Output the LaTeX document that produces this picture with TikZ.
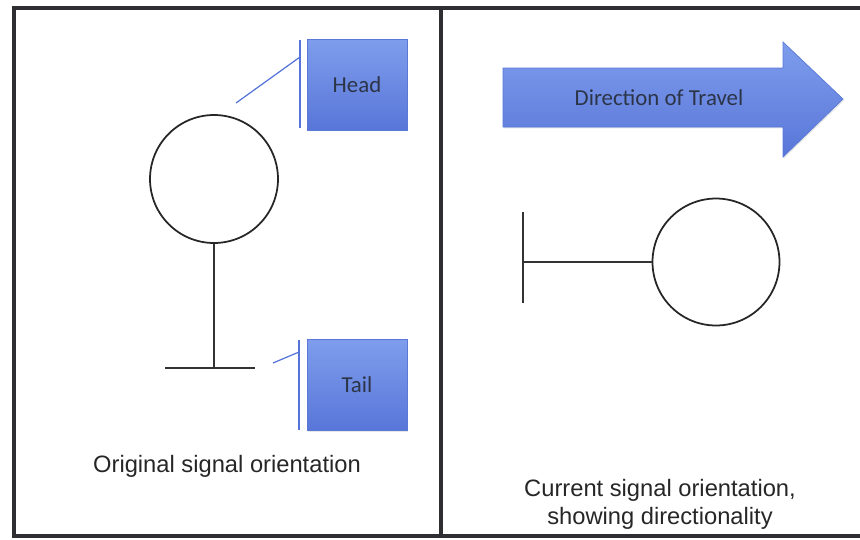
\documentclass[tikz,border=0pt]{standalone}
\usepackage{fontspec}
\setmainfont{Liberation Sans}
\newfontfamily\calloutfont{Carlito}
\usetikzlibrary{positioning,shadows}
\definecolor{frameline}{HTML}{2E2E33}
\definecolor{boxtop}{HTML}{7F9DEC}
\definecolor{boxbottom}{HTML}{5876D8}
\definecolor{boxedge}{HTML}{5A78D6}
\definecolor{leader}{HTML}{5574DA}
\definecolor{boxtext}{HTML}{2C3547}
\tikzset{
  callout/.style={rectangle, draw=boxedge, line width=0.4pt, top color=boxtop, bottom color=boxbottom,
                  minimum width=2cm, minimum height=1.82cm, text=boxtext,
                  font=\calloutfont\fontsize{13}{15}\selectfont,
                  drop shadow={opacity=0.2, shadow xshift=0.6pt, shadow yshift=-0.8pt}},
  accent/.style={leader, line width=0.7pt},
  glyph/.style={draw=black!85, line width=1pt, circle, inner sep=0pt},
  stem/.style={black!80, line width=1.5pt},
  caption/.style={font=\fontsize{13.5}{16}\selectfont, text=black!85, align=center}
}

\begin{document}
\begin{tikzpicture}[x=0.02cm, y=-0.02cm]
  \useasboundingbox (0,0) rectangle (860,539);

  % two panels
  \draw[frameline, line width=2pt] (14,8) rectangle (880,536);
  \draw[frameline, line width=2pt] (441,8) -- (441,536);

  % original signal: head on top, tail below
  \node[glyph, minimum size=2.56cm] (headA) at (214,179) {};
  \coordinate (footA) at (214,368);
  \coordinate (barAl) at (165,368);
  \coordinate (barAr) at (255,368);
  \draw[stem] (headA.south) -- (footA);
  \draw[stem] (barAl) -- (barAr);

  \node[callout] (headbox) at (357,84.5) {Head};
  \coordinate (headbarT) at (300,40);
  \coordinate (headbarB) at (300,128);
  \coordinate (headjoin) at (300,57);
  \coordinate (headtip) at (236,103);
  \draw[accent] (headbarT) -- (headbarB);
  \draw[accent] (headtip) -- (headjoin);

  \node[callout] (tailbox) at (357,385) {Tail};
  \coordinate (tailbarT) at (299,340);
  \coordinate (tailbarB) at (299,430);
  \coordinate (tailjoin) at (299,352);
  \coordinate (tailtip) at (273,363);
  \draw[accent] (tailbarT) -- (tailbarB);
  \draw[accent] (tailtip) -- (tailjoin);

  \node[caption] (origcap) at (227,466) {Original signal orientation};

  % current signal: lying down, head pointing along travel
  \shade[top color=boxtop, bottom color=boxbottom, draw=boxedge, line width=0.4pt,
         drop shadow={opacity=0.2, shadow xshift=0.6pt, shadow yshift=-0.8pt}]
    (503,68) -- (783,68) -- (783,42) -- (843,99) -- (783,157) -- (783,127) -- (503,127) -- cycle;
  \node[font=\calloutfont\fontsize{13}{15}\selectfont, text=boxtext] (travel) at (659,98) {Direction of Travel};

  \node[glyph, minimum size=2.54cm] (headB) at (716,262) {};
  \coordinate (footB) at (523,262);
  \coordinate (barBt) at (523,212);
  \coordinate (barBb) at (523,303);
  \draw[stem] (footB) -- (headB.west);
  \draw[stem] (barBt) -- (barBb);

  \node[caption] (curcap) at (660,504) {Current signal orientation,\\showing directionality};
\end{tikzpicture}
\end{document}
